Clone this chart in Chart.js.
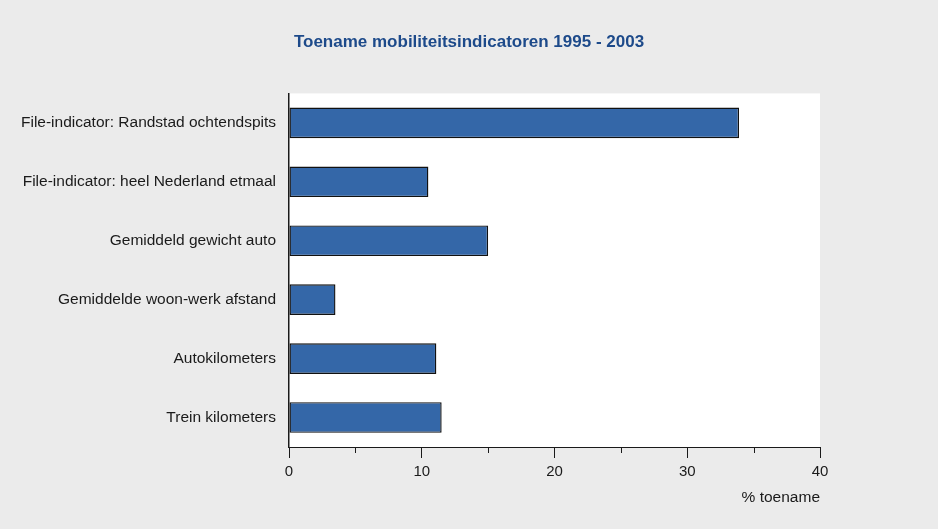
<!DOCTYPE html>
<html>
<head>
<meta charset="utf-8">
<title>Toename mobiliteitsindicatoren 1995 - 2003</title>
<script src="https://cdn.jsdelivr.net/npm/chart.js@4/dist/chart.umd.min.js"></script>
<style>
  html, body { margin: 0; padding: 0; background: #ebebeb; }
  #wrap { width: 938px; height: 529px; }
</style>
</head>
<body>
<div id="wrap"><canvas id="chart" width="938" height="529"></canvas></div>
<script>
(function () {
  "use strict";

  var categories = [
    "File-indicator: Randstad ochtendspits",
    "File-indicator: heel Nederland etmaal",
    "Gemiddeld gewicht auto",
    "Gemiddelde woon-werk afstand",
    "Autokilometers",
    "Trein kilometers"
  ];
  var toename = [33.9, 10.5, 15.0, 3.5, 11.1, 11.5];
  var xTicks = [0, 10, 20, 30, 40];
  var xMinorTicks = [5, 15, 25, 35];

  var FONT = "'Liberation Sans', Arial, sans-serif";
  var INK = "#1a1a1a";

  // grey page, white plot area
  var backdrop = {
    id: "backdrop",
    beforeDraw: function (chart) {
      var ctx = chart.ctx, a = chart.chartArea;
      ctx.save();
      ctx.fillStyle = "#ebebeb";
      ctx.fillRect(0, 0, chart.width, chart.height);
      ctx.fillStyle = "#ffffff";
      ctx.fillRect(a.left, a.top, a.right - a.left, a.bottom - a.top);
      ctx.restore();
    }
  };

  // short ticks halfway between the labelled ones
  var minorTicks = {
    id: "minorTicks",
    afterDraw: function (chart) {
      var sx = chart.scales.x, ctx = chart.ctx, y = chart.chartArea.bottom;
      ctx.save();
      ctx.strokeStyle = INK;
      ctx.lineWidth = 1;
      xMinorTicks.forEach(function (v) {
        var px = Math.round(sx.getPixelForValue(v)) + 0.5;
        ctx.beginPath();
        ctx.moveTo(px, y);
        ctx.lineTo(px, y + 6);
        ctx.stroke();
      });
      ctx.restore();
    }
  };

  new Chart(document.getElementById("chart"), {
    type: "bar",
    data: {
      labels: categories,
      datasets: [{
        data: toename,
        backgroundColor: "#3467a8",
        borderColor: "#111111",
        borderWidth: 1.4,
        borderSkipped: false,
        barPercentage: 0.52,
        categoryPercentage: 1
      }]
    },
    options: {
      indexAxis: "y",
      responsive: false,
      animation: false,
      layout: { padding: { left: 0, right: 0, top: 0, bottom: 0 } },
      plugins: {
        legend: { display: false },
        tooltip: { enabled: false },
        title: {
          display: true,
          text: "Toename mobiliteitsindicatoren 1995 - 2003",
          color: "#1d4a8a",
          font: { family: FONT, size: 17, weight: "bold" },
          padding: { top: 32, bottom: 41 }
        }
      },
      scales: {
        x: {
          min: 0,
          max: 40,
          afterBuildTicks: function (scale) {
            scale.ticks = xTicks.map(function (v) { return { value: v }; });
          },
          afterFit: function (scale) { scale.height = 82; },
          grid: {
            drawOnChartArea: false,
            drawTicks: true,
            tickLength: 11,
            tickColor: INK
          },
          border: { display: true, color: INK, width: 1 },
          ticks: {
            color: INK,
            padding: 5,
            font: { family: FONT, size: 15 }
          },
          title: {
            display: true,
            text: "% toename",
            align: "end",
            color: INK,
            font: { family: FONT, size: 15.5 },
            padding: { top: 2, bottom: 22 }
          }
        },
        y: {
          afterFit: function (scale) { scale.width = 289; },
          grid: { display: false, drawTicks: false },
          border: { display: true, color: INK, width: 1.5 },
          ticks: {
            color: INK,
            padding: 13,
            font: { family: FONT, size: 15.5 }
          }
        },
        // empty right-hand axis keeping the margin beside the plot
        yRight: {
          position: "right",
          afterFit: function (scale) { scale.width = 118; },
          grid: { display: false, drawTicks: false },
          border: { display: false },
          ticks: { display: false }
        }
      }
    },
    plugins: [backdrop, minorTicks]
  });
})();
</script>
</body>
</html>
